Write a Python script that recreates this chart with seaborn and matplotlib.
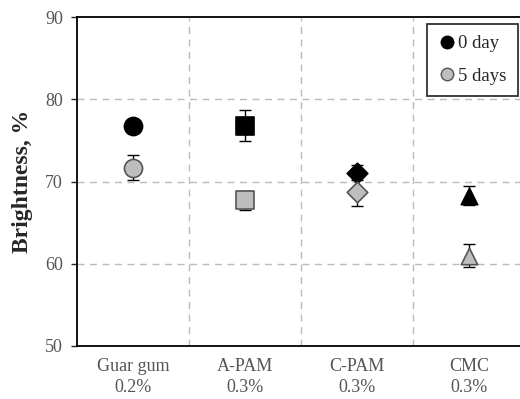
import numpy as np
import pandas as pd
import seaborn as sns
import matplotlib.pyplot as plt
from matplotlib.lines import Line2D

materials = ["Guar gum\n0.2%", "A-PAM\n0.3%", "C-PAM\n0.3%", "CMC\n0.3%"]
day0 = [76.8, 76.8, 71.1, 68.3]
day0_err = [0.4, 1.9, 0.9, 1.1]
day5 = [71.7, 67.7, 68.7, 61.0]
day5_err = [1.5, 1.2, 1.7, 1.4]
marker_shapes = ["o", "s", "D", "^"]

sns.set_style("white")
plt.rcParams['font.family'] = ['Liberation Serif', 'DejaVu Serif']

df = pd.DataFrame({
    "material": materials * 2,
    "value": day0 + day5,
    "err": day0_err + day5_err,
    "day": ["0 day"] * 4 + ["5 days"] * 4,
})

fig = plt.figure(figsize=(5.2, 3.99), dpi=100)
ax = fig.add_axes([0.148, 0.133, 0.862, 0.824])

xpos = np.arange(len(materials))
ax.errorbar(xpos, day0, yerr=day0_err, fmt='none', ecolor='black',
            elinewidth=1, capsize=4, capthick=1, zorder=2)
ax.errorbar(xpos, day5, yerr=day5_err, fmt='none', ecolor='black',
            elinewidth=1, capsize=4, capthick=1, zorder=2)

sizes = {"o": 170, "s": 160, "D": 110, "^": 140}
for m, shape in zip(materials, marker_shapes):
    sub = df[df["material"] == m]
    for day, face, edge in [("0 day", "black", "black"), ("5 days", "#BEBEBE", "#555555")]:
        s = sub[sub["day"] == day]
        sns.scatterplot(data=s, x="material", y="value", marker=shape, s=sizes[shape],
                        color=face, edgecolor=edge, linewidth=1.2, ax=ax,
                        legend=False, zorder=3)

ax.set_xlim(-0.5, 3.5)
ax.set_ylim(50, 90)
ax.set_yticks([50, 60, 70, 80, 90])
ax.set_xticks(xpos)
ax.set_xticklabels(materials, linespacing=1.3)
ax.set_xlabel("")
ax.set_ylabel("Brightness, %", fontsize=17, fontweight='bold', labelpad=9)

for y in [60, 70, 80]:
    ax.axhline(y, color='#BBBBBB', ls=(0, (5, 4)), lw=1, zorder=1)
for x in [0.5, 1.5, 2.5]:
    ax.axvline(x, color='#BBBBBB', ls=(0, (5, 4)), lw=1, zorder=1)

for side in ['left', 'bottom', 'top', 'right']:
    ax.spines[side].set_color('black')
    ax.spines[side].set_linewidth(1.3)

ax.tick_params(axis='y', direction='out', length=4, width=1, labelsize=13,
               labelcolor='#555555', left=True, pad=6)
ax.tick_params(axis='x', length=0, labelsize=13, labelcolor='#555555', pad=9)

handles = [
    Line2D([], [], marker='o', ls='none', color='black', markersize=9, label='0 day'),
    Line2D([], [], marker='o', ls='none', markerfacecolor='#BEBEBE',
           markeredgecolor='#555555', markersize=9, label='5 days'),
]
leg = ax.legend(handles=handles, loc='upper right', bbox_to_anchor=(0.984, 0.979),
                borderaxespad=0, frameon=True, fancybox=False, edgecolor='black',
                fontsize=13.5, handletextpad=0.1, handlelength=1.0, labelspacing=0.8,
                borderpad=0.6)
leg.get_frame().set_linewidth(1.3)

fig.savefig("out.png", dpi=100)
